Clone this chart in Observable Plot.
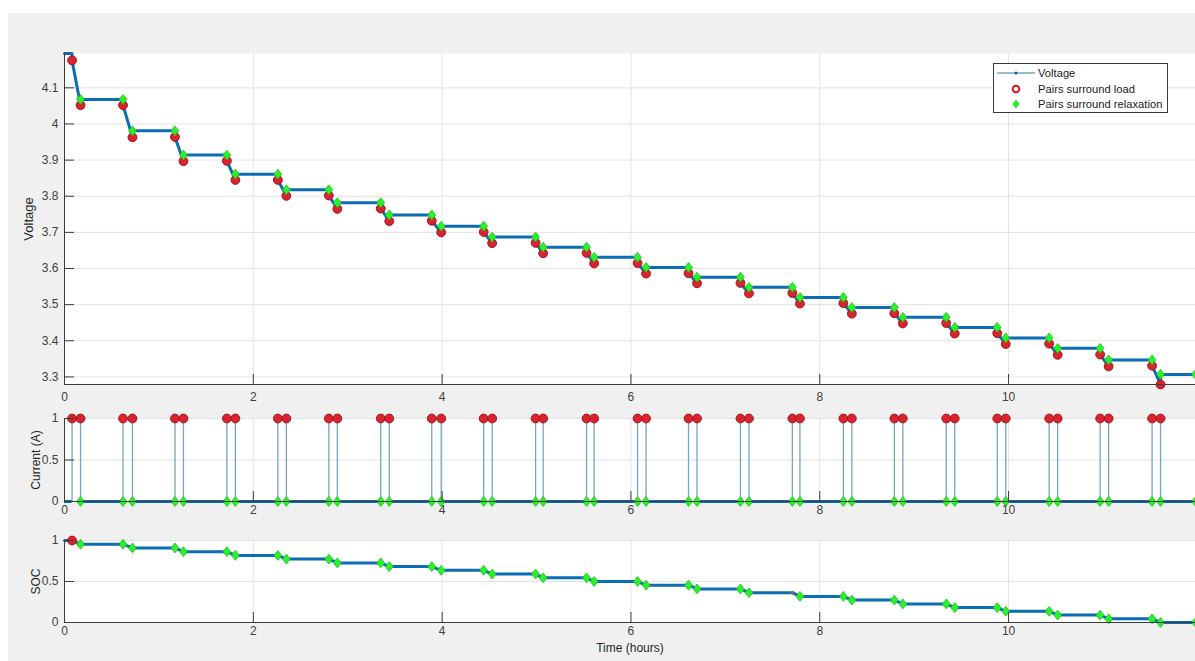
<!DOCTYPE html>
<html>
<head>
<meta charset="utf-8">
<script src="https://cdn.jsdelivr.net/npm/d3@7"></script>
<script src="https://cdn.jsdelivr.net/npm/@observablehq/plot@0.6"></script>
<style>
html, body { margin: 0; padding: 0; background: #fff; overflow: hidden; }
#fig { position: relative; width: 1195px; height: 661px; background: #fff; font-family: "Liberation Sans", Arial, sans-serif; }
#bg { position: absolute; left: 8px; top: 13px; right: 0; bottom: 0; background: #f0f0f0; }
.panel { position: absolute; left: 0; }
#legend { position: absolute; left: 993px; top: 63px; width: 173px; height: 48px; background: #fff; border: 1px solid #3a3a3a; font-size: 11.2px; color: #1a1a1a; }
.lg-row { position: absolute; left: 0; height: 14px; width: 173px; }
.lg-row svg { position: absolute; left: 0; top: 0; }
.lg-row span { position: absolute; left: 44px; top: 0; line-height: 14px; white-space: nowrap; }
</style>
</head>
<body>
<div id="fig">
  <div id="bg"></div>
  <div class="panel" id="p1" style="top:0px"></div>
  <div class="panel" id="p2" style="top:410px"></div>
  <div class="panel" id="p3" style="top:530px"></div>
  <div id="legend"></div>
</div>
<script>
// ---------------- data ----------------
const loadStart = [0.08, 0.62, 1.17, 1.72, 2.26, 2.80, 3.35, 3.89, 4.44, 4.99, 5.53, 6.07, 6.61, 7.16, 7.71, 8.25, 8.79, 9.34, 9.88, 10.43, 10.97, 11.52];
const loadEnd   = [0.17, 0.72, 1.26, 1.81, 2.35, 2.89, 3.44, 3.99, 4.53, 5.07, 5.61, 6.16, 6.70, 7.25, 7.79, 8.34, 8.88, 9.43, 9.97, 10.52, 11.06, 11.61];
const tEnd = 11.98;
// rest (plateau) voltage before the first pulse and after each pulse
const restVoltage = [4.195, 4.068, 3.981, 3.914, 3.861, 3.818, 3.782, 3.748, 3.717, 3.687, 3.659, 3.631, 3.603, 3.576, 3.548, 3.520, 3.492, 3.465, 3.437, 3.408, 3.379, 3.347, 3.307];
// voltage right after the load is switched on / right before it is switched off
const loadOnVoltage  = [4.176, 4.052, 3.964, 3.898, 3.845, 3.802, 3.766, 3.732, 3.701, 3.671, 3.643, 3.615, 3.587, 3.560, 3.532, 3.504, 3.476, 3.449, 3.421, 3.392, 3.362, 3.331];
const loadOffVoltage = [4.052, 3.963, 3.897, 3.845, 3.801, 3.765, 3.731, 3.700, 3.670, 3.642, 3.614, 3.586, 3.559, 3.531, 3.503, 3.475, 3.448, 3.420, 3.391, 3.361, 3.329, 3.279];
const pulseCurrent = 1;
const socLevels = [1, 0.955, 0.909, 0.864, 0.818, 0.773, 0.727, 0.682, 0.636, 0.591, 0.545, 0.5, 0.455, 0.409, 0.364, 0.318, 0.273, 0.227, 0.182, 0.136, 0.091, 0.045, 0];
const socMissingMarkerPulse = 14; // pulse whose SOC relaxation marker shows only the small line dot

const xTicks = [0, 2, 4, 6, 8, 10];
const voltageTicks = [3.3, 3.4, 3.5, 3.6, 3.7, 3.8, 3.9, 4.0, 4.1];
const currentTicks = [0, 0.5, 1];
const socTicks = [0, 0.5, 1];
const yLabels = ["Voltage", "Current (A)", "SOC"];
const xLabel = "Time (hours)";
const legendLabels = ["Voltage", "Pairs surround load", "Pairs surround relaxation"];

// ---------------- derived tables ----------------
const n = loadStart.length;
const voltPts = [{t: 0, v: restVoltage[0]}];
const voltRed = [], voltGreen = [];
const curPts = [{t: 0, v: 0}];
const curRed = [], curGreen = [];
const socPts = [{t: 0, v: socLevels[0]}];
const socRed = [], socGreen = [], socDot = [];
const restSegments = [{a: 0, b: loadStart[0]}];
for (let i = 0; i < n; i++) {
  voltPts.push({t: loadStart[i], v: restVoltage[i]}, {t: loadStart[i], v: loadOnVoltage[i]},
               {t: loadEnd[i], v: loadOffVoltage[i]}, {t: loadEnd[i], v: restVoltage[i + 1]});
  voltRed.push({t: loadStart[i], v: loadOnVoltage[i]}, {t: loadEnd[i], v: loadOffVoltage[i]});
  if (i > 0) voltGreen.push({t: loadStart[i], v: restVoltage[i]});
  voltGreen.push({t: loadEnd[i], v: restVoltage[i + 1]});

  curPts.push({t: loadStart[i], v: 0}, {t: loadStart[i], v: pulseCurrent}, {t: loadEnd[i], v: pulseCurrent}, {t: loadEnd[i], v: 0});
  curRed.push({t: loadStart[i], v: pulseCurrent}, {t: loadEnd[i], v: pulseCurrent});
  if (i > 0) curGreen.push({t: loadStart[i], v: 0});
  curGreen.push({t: loadEnd[i], v: 0});
  restSegments.push({a: loadEnd[i], b: i + 1 < n ? loadStart[i + 1] : tEnd});

  socPts.push({t: loadStart[i], v: socLevels[i]}, {t: loadEnd[i], v: socLevels[i + 1]});
  if (i === 0) socRed.push({t: loadStart[i], v: socLevels[i]});
  else if (i === socMissingMarkerPulse) socDot.push({t: loadStart[i], v: socLevels[i]});
  else socGreen.push({t: loadStart[i], v: socLevels[i]});
  socGreen.push({t: loadEnd[i], v: socLevels[i + 1]});
}
voltPts.push({t: tEnd, v: restVoltage[n]});
voltGreen.push({t: tEnd, v: restVoltage[n]});
curPts.push({t: tEnd, v: 0});
curGreen.push({t: tEnd, v: 0});
socPts.push({t: tEnd, v: socLevels[n]});
socGreen.push({t: tEnd, v: socLevels[n]});

// ---------------- styling ----------------
const W = 1195, ML = 64, MR = 0;
const plotW = W - ML - MR;
const blue = "#0b6db4";
const gridC = "#e4e4e4";
const axisC = "#3c3c3c";
const textC = "#404040";
const redFill = "#d9232e", redEdge = "#a5141b";
const greenFill = "#2cf02c", greenEdge = "#17c417";
const xDomain = [0, tEnd];
const mDiamond = {draw(ctx, size) { const s = Math.sqrt(size) * 0.55; ctx.moveTo(0, -s * 1.2); ctx.lineTo(s * 0.95, 0); ctx.lineTo(0, s * 1.2); ctx.lineTo(-s * 0.95, 0); ctx.closePath(); }};
const fmt = d => String(+d.toFixed(2));

function redDots(data) { return Plot.dot(data, {x: "t", y: "v", r: 4.4, fill: redFill, stroke: redEdge, strokeWidth: 1}); }
function greenDots(data) { return Plot.dot(data, {x: "t", y: "v", r: 4.2, symbol: mDiamond, fill: greenFill, stroke: greenEdge, strokeWidth: 0.8}); }

function panel({height, mt, mb, ydomain, yticks, xPad, dataMarks, ylab, ylabDx, ylabSize, extra = []}) {
  const plotH = height - mt - mb;
  return Plot.plot({
    width: W, height, marginLeft: ML, marginRight: MR, marginTop: mt, marginBottom: mb,
    x: {domain: xDomain, label: null},
    y: {domain: ydomain, label: null},
    style: {background: "transparent", fontFamily: "Liberation Sans, Arial, sans-serif", fontSize: "12px", color: textC, overflow: "hidden"},
    marks: [
      Plot.frame({fill: "white", stroke: "none"}),
      Plot.ruleX(xTicks.filter(d => d > 0), {x: d => d, stroke: gridC, strokeWidth: 1}),
      Plot.ruleY(yticks, {y: d => d, stroke: gridC, strokeWidth: 1}),
      ...dataMarks,
      Plot.ruleX([xDomain[0]], {x: d => d, stroke: axisC, strokeWidth: 1}),
      Plot.ruleY([ydomain[0]], {y: d => d, stroke: axisC, strokeWidth: 1}),
      Plot.tickX(xTicks, {x: d => d, insetTop: plotH - 10, stroke: axisC, strokeWidth: 1}),
      Plot.tickY(yticks, {y: d => d, insetRight: plotW - 10, stroke: axisC, strokeWidth: 1}),
      Plot.axisX({ticks: xTicks, tickSize: 0, tickPadding: xPad, tickFormat: fmt, label: null, fill: textC}),
      Plot.axisY({ticks: yticks, tickSize: 0, tickPadding: 6, tickFormat: fmt, label: null, fill: textC}),
      Plot.text([ylab], {text: d => d, frameAnchor: "left", dx: ylabDx, rotate: -90, textAnchor: "middle", lineAnchor: "middle", fontSize: ylabSize, fill: "#262626"}),
      ...extra
    ]
  });
}

const p1 = panel({
  height: 410, mt: 53, mb: 26, ydomain: [3.279, 4.195], yticks: voltageTicks, xPad: 8,
  ylab: yLabels[0], ylabDx: -36, ylabSize: 13,
  dataMarks: [
    Plot.line(voltPts, {x: "t", y: "v", stroke: blue, strokeWidth: 3, strokeLinejoin: "round"}),
    redDots(voltRed),
    greenDots(voltGreen)
  ]
});
const p2 = panel({
  height: 120, mt: 8, mb: 29, ydomain: [0, 1], yticks: currentTicks, xPad: 4,
  ylab: yLabels[1], ylabDx: -28, ylabSize: 12,
  dataMarks: [
    Plot.line(curPts, {x: "t", y: "v", stroke: "#76a5c4", strokeWidth: 1.3}),
    Plot.ruleY(restSegments, {y: 0, x1: "a", x2: "b", stroke: blue, strokeWidth: 3}),
    redDots(curRed),
    greenDots(curGreen)
  ]
});
const p3 = panel({
  height: 131, mt: 10, mb: 39, ydomain: [0, 1], yticks: socTicks, xPad: 4,
  ylab: yLabels[2], ylabDx: -28, ylabSize: 12,
  dataMarks: [
    Plot.line(socPts, {x: "t", y: "v", stroke: blue, strokeWidth: 3, strokeLinejoin: "round"}),
    Plot.dot(socDot, {x: "t", y: "v", r: 1.8, fill: "#707070"}),
    redDots(socRed),
    greenDots(socGreen)
  ],
  extra: [Plot.text([xLabel], {text: d => d, frameAnchor: "bottom", dy: 26, lineAnchor: "middle", textAnchor: "middle", fontSize: 12, fill: "#262626"})]
});
document.getElementById("p1").appendChild(p1);
document.getElementById("p2").appendChild(p2);
document.getElementById("p3").appendChild(p3);

// ---------------- legend ----------------
const lg = document.getElementById("legend");
const rowsTop = [2, 18, 33];
const symbols = [
  `<line x1="3" y1="7" x2="41" y2="7" stroke="#2f7ba8" stroke-width="1"/><circle cx="22" cy="7" r="1.6" fill="#1f5f88"/>`,
  `<circle cx="22" cy="7" r="3.3" fill="none" stroke="#e0101c" stroke-width="2"/>`,
  `<path d="M22,2.5 L25.6,7 L22,11.5 L18.4,7 Z" fill="#22ee22"/>`
];
legendLabels.forEach((label, i) => {
  const row = document.createElement("div");
  row.className = "lg-row";
  row.style.top = rowsTop[i] + "px";
  row.innerHTML = `<svg width="44" height="14">${symbols[i]}</svg><span>${label}</span>`;
  lg.appendChild(row);
});
</script>
</body>
</html>
